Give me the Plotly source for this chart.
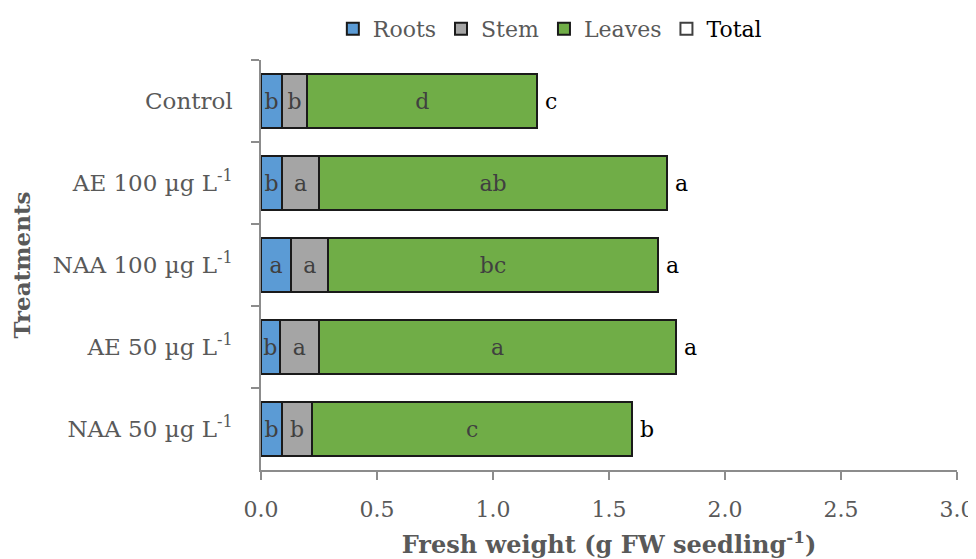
import plotly.graph_objects as go

treatments = ["Control", "AE 100 µg L<sup>-1</sup>", "NAA 100 µg L<sup>-1</sup>",
              "AE 50 µg L<sup>-1</sup>", "NAA 50 µg L<sup>-1</sup>"]
roots = [0.09, 0.09, 0.13, 0.08, 0.09]
stem = [0.11, 0.16, 0.16, 0.17, 0.13]
leaves = [0.99, 1.50, 1.42, 1.54, 1.38]
roots_letters = ["b", "b", "a", "b", "b"]
stem_letters = ["b", "a", "a", "a", "b"]
leaves_letters = ["d", "ab", "bc", "a", "c"]
total_letters = ["c", "a", "a", "a", "b"]
totals = [r + s + l for r, s, l in zip(roots, stem, leaves)]

FONT = "DejaVu Serif"
GRAY = "#595959"
INNER = "#404040"
AXIS = "#8c8c8c"
FS = 22

fig = go.Figure()
for name, vals, letters, color in [
    ("Roots", roots, roots_letters, "#5B9BD5"),
    ("Stem", stem, stem_letters, "#A5A5A5"),
    ("Leaves", leaves, leaves_letters, "#70AD47"),
]:
    fig.add_trace(go.Bar(
        x=vals, y=treatments, orientation="h", name=name,
        marker=dict(color=color, line=dict(color="#1a1a1a", width=2)),
        text=letters, textposition="inside", insidetextanchor="middle",
        textfont=dict(family=FONT, size=FS, color=INNER),
        constraintext="none", cliponaxis=False, width=0.66,
    ))

# legend entry for Total
fig.add_trace(go.Bar(
    x=[None], y=[None], orientation="h",
    name="<span style='color:black'>Total</span>",
    marker=dict(color="white", line=dict(color="#404040", width=2)),
))

for t, lab, cat in zip(totals, total_letters, treatments):
    fig.add_annotation(x=t, y=cat, text=lab, showarrow=False, xanchor="left",
                       xshift=6, font=dict(family=FONT, size=FS, color="black"))

fig.update_layout(
    width=968, height=551,
    barmode="stack",
    plot_bgcolor="white", paper_bgcolor="white",
    margin=dict(l=253, r=19, t=52, b=89, pad=0),
    font=dict(family=FONT, size=FS, color=GRAY),
    uniformtext=dict(minsize=FS, mode="show"),
    legend=dict(orientation="h", x=0.415, xanchor="center",
                yref="container", y=1.0, yanchor="top",
                font=dict(family=FONT, size=FS, color=GRAY), traceorder="normal",
                itemwidth=30, tracegroupgap=0),
    xaxis=dict(range=[0, 3], dtick=0.5, tickformat=".1f", showgrid=False,
               showline=True, linecolor=AXIS, linewidth=1.5,
               ticks="outside", ticklen=8, tickcolor=AXIS, tickwidth=1.5,
               ticklabelstandoff=11, automargin=False,
               zeroline=False, tickfont=dict(family=FONT, size=FS, color=GRAY),
               title=dict(text="<b>Fresh weight (g FW seedling<sup>-1</sup>)</b>",
                          font=dict(family=FONT, size=24, color=GRAY), standoff=15)),
    yaxis=dict(autorange="reversed", showline=True, linecolor=AXIS, linewidth=1.5,
               ticks="outside", tickson="boundaries", ticklen=8, tickcolor=AXIS,
               tickwidth=1.5, ticklabelstandoff=22, automargin=False,
               showgrid=False, tickfont=dict(family=FONT, size=23, color=GRAY),
               title=dict(text="<b>Treatments</b>", font=dict(family=FONT, size=23, color=GRAY),
                          standoff=16)),
)

fig.write_html("out.html")
